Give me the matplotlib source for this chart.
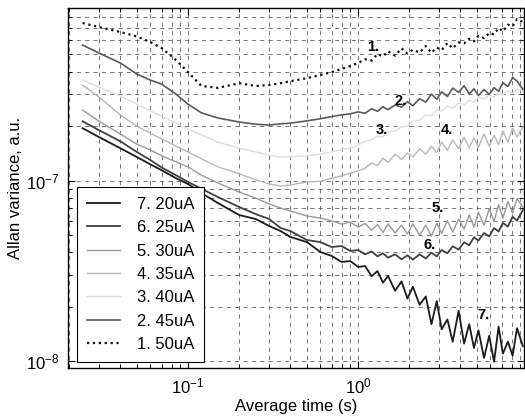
import matplotlib
matplotlib.use('Agg')
import matplotlib.pyplot as plt
from matplotlib.ticker import LogLocator, NullFormatter

plt.rcParams['font.family'] = ['Liberation Sans', 'DejaVu Sans']
plt.rcParams['mathtext.default'] = 'regular'

# averaging time (s), shared by every run
tau = [0.024, 0.03, 0.04, 0.05, 0.06, 0.07, 0.085, 0.1, 0.12, 0.15,
       0.2, 0.25, 0.3, 0.35, 0.4, 0.5, 0.6, 0.7, 0.8, 0.9,
       1.0, 1.1, 1.2, 1.3, 1.4, 1.5, 1.65, 1.8, 1.95, 2.1,
       2.3, 2.5, 2.7, 2.9, 3.1, 3.35, 3.6, 3.9, 4.2, 4.5,
       4.8, 5.1, 5.5, 5.9, 6.3, 6.7, 7.1, 7.6, 8.1, 8.6, 9.3]

# Allan variance, in units of 1e-7
av_50uA = [7.46, 7.08, 6.65, 6.28, 5.85, 5.42, 4.65, 3.99, 3.34, 3.26,
           3.46, 3.34, 3.38, 3.46, 3.55, 3.69, 3.84, 3.99, 4.15, 4.31,
           4.48, 4.70, 4.62, 5.02, 4.88, 5.20, 4.92, 5.40, 5.05, 5.30,
           5.12, 5.56, 5.10, 5.45, 5.28, 5.77, 5.40, 5.82, 5.75, 6.10,
           5.90, 6.32, 6.15, 6.55, 6.45, 6.99, 6.70, 7.30, 7.15, 7.85, 7.55]
av_45uA = [5.63, 5.08, 4.48, 3.89, 3.60, 3.42, 3.01, 2.65, 2.37, 2.22,
           2.11, 2.05, 2.03, 2.06, 2.08, 2.14, 2.20, 2.26, 2.31, 2.34,
           2.40, 2.36, 2.50, 2.42, 2.56, 2.47, 2.62, 2.55, 2.73, 2.60,
           2.84, 2.72, 3.01, 2.82, 3.10, 2.92, 3.25, 3.08, 3.35, 3.02,
           3.22, 2.96, 3.19, 3.00, 3.27, 3.12, 3.48, 3.32, 3.72, 3.55, 3.20]
av_40uA = [3.60, 3.29, 2.94, 2.65, 2.43, 2.28, 2.08, 1.93, 1.79, 1.63,
           1.51, 1.44, 1.38, 1.35, 1.35, 1.37, 1.40, 1.44, 1.48, 1.51,
           1.57, 1.65, 1.68, 1.76, 1.74, 1.86, 1.88, 1.98, 2.00, 2.13,
           2.16, 2.31, 2.28, 2.46, 2.43, 2.59, 2.52, 2.69, 2.62, 2.79,
           2.72, 2.90, 2.83, 2.98, 2.90, 3.05, 2.98, 3.13, 3.05, 3.21, 3.13]
av_35uA = [3.38, 2.90, 2.31, 2.00, 1.83, 1.70, 1.55, 1.44, 1.32, 1.19,
           1.09, 1.01, 0.957, 0.933, 0.945, 0.982, 0.99, 1.03, 1.06, 1.10,
           1.13, 1.17, 1.25, 1.21, 1.33, 1.26, 1.40, 1.31, 1.42, 1.35,
           1.50, 1.40, 1.55, 1.43, 1.63, 1.47, 1.68, 1.50, 1.74, 1.52,
           1.72, 1.53, 1.81, 1.55, 1.78, 1.58, 1.88, 1.63, 1.95, 1.74, 1.98]
av_30uA = [2.46, 2.13, 1.81, 1.59, 1.48, 1.37, 1.27, 1.19, 1.07, 0.97,
           0.863, 0.80, 0.741, 0.704, 0.678, 0.636, 0.620, 0.597, 0.574, 0.589,
           0.553, 0.578, 0.530, 0.570, 0.515, 0.575, 0.512, 0.566, 0.505, 0.575,
           0.498, 0.566, 0.492, 0.580, 0.510, 0.598, 0.518, 0.612, 0.538, 0.645,
           0.552, 0.668, 0.565, 0.695, 0.595, 0.735, 0.618, 0.765, 0.660, 0.795, 0.710]
av_25uA = [2.13, 1.90, 1.65, 1.44, 1.30, 1.18, 1.07, 0.982, 0.90, 0.81,
           0.713, 0.652, 0.612, 0.546, 0.525, 0.468, 0.456, 0.428, 0.434, 0.407,
           0.412, 0.390, 0.405, 0.380, 0.395, 0.374, 0.390, 0.366, 0.385, 0.365,
           0.390, 0.370, 0.398, 0.380, 0.412, 0.395, 0.432, 0.415, 0.455, 0.438,
           0.485, 0.465, 0.512, 0.490, 0.545, 0.522, 0.582, 0.556, 0.630, 0.600, 0.687]
av_20uA = [1.95, 1.74, 1.51, 1.35, 1.23, 1.14, 1.03, 0.957, 0.852, 0.75,
           0.644, 0.612, 0.560, 0.525, 0.487, 0.456, 0.402, 0.382, 0.354, 0.358,
           0.332, 0.336, 0.295, 0.315, 0.272, 0.296, 0.245, 0.276, 0.222, 0.258,
           0.205, 0.228, 0.160, 0.215, 0.150, 0.170, 0.128, 0.190, 0.125, 0.160,
           0.118, 0.148, 0.104, 0.138, 0.099, 0.155, 0.110, 0.128, 0.107, 0.152, 0.121]

# one entry per run: (label, values, colour, linestyle, width), legend order
runs = [
    ('7. 20uA', av_20uA, '#1c1c1c', '-', 1.3),
    ('6. 25uA', av_25uA, '#404040', '-', 1.3),
    ('5. 30uA', av_30uA, '#9a9a9a', '-', 1.0),
    ('4. 35uA', av_35uA, '#b8b8b8', '-', 1.0),
    ('3. 40uA', av_40uA, '#dedede', '-', 1.0),
    ('2. 45uA', av_45uA, '#5a5a5a', '-', 1.2),
    ('1. 50uA', av_50uA, '#111111', ':', 1.6),
]

# curve tags written next to the traces: (text, tau, value * 1e-7)
tags = [('1.', 1.22, 5.49), ('2.', 1.77, 2.77), ('3.', 1.37, 1.90),
        ('4.', 3.34, 1.90), ('5.', 2.92, 0.704), ('6.', 2.65, 0.439),
        ('7.', 5.43, 0.180)]

fig = plt.figure(figsize=(5.25, 4.19), dpi=100)
ax = fig.add_axes([0.1295, 0.1217, 0.8686, 0.8592])

# draw the lightest traces first so the dark ones sit on top
for label, vals, color, ls, lw in sorted(runs, key=lambda r: -int(r[0][0])):
    ax.plot(tau, [v * 1e-7 for v in vals], color=color, linestyle=ls,
            linewidth=lw, label=label)

for text, t, v in tags:
    ax.text(t, v * 1e-7, text, fontsize=10.5, fontweight='bold',
            ha='center', va='center')

ax.set_xscale('log')
ax.set_yscale('log')
ax.set_xlim(0.0197, 9.45)
ax.set_ylim(9.15e-9, 9.03e-7)

for axis in (ax.xaxis, ax.yaxis):
    axis.set_major_locator(LogLocator(base=10))
    axis.set_minor_locator(LogLocator(base=10, subs=range(2, 10)))
    axis.set_minor_formatter(NullFormatter())

ax.tick_params(which='both', direction='in', top=True, right=True,
               labelsize=12, color='black')
ax.tick_params(which='major', length=5, width=0.8, pad=6)
ax.tick_params(which='minor', length=3, width=0.6)
ax.grid(True, which='both', color='#606060', linestyle=(0, (5, 5)),
        linewidth=0.6)
for sp in ax.spines.values():
    sp.set_linewidth(1.0)

ax.set_xlabel('Average time (s)', fontsize=12, labelpad=2)
ax.set_ylabel('Allan variance, a.u.', fontsize=12, labelpad=2)

handles, labels = ax.get_legend_handles_labels()
order = [labels.index(r[0]) for r in runs]
leg = ax.legend([handles[i] for i in order], [labels[i] for i in order],
                loc='lower left', bbox_to_anchor=(0.0197, 0.0167),
                borderaxespad=0, fontsize=12, fancybox=False, framealpha=1,
                edgecolor='black', labelspacing=0.5, handlelength=2.0,
                handletextpad=1.0, borderpad=0.6)
leg.get_frame().set_linewidth(0.8)

plt.savefig('out.png', dpi=100)
